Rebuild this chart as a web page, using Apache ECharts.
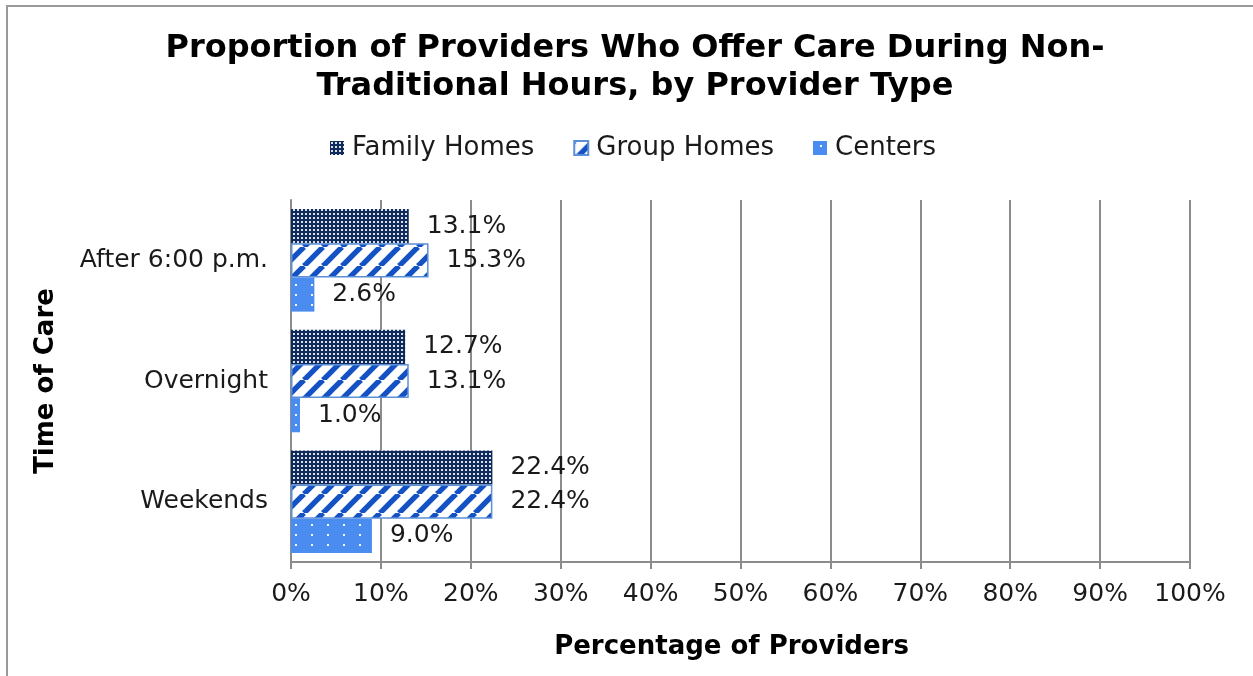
<!DOCTYPE html>
<html>
<head>
<meta charset="utf-8">
<script src="https://cdn.jsdelivr.net/npm/echarts@6/dist/echarts.min.js"></script>
<style>
html,body{margin:0;padding:0;background:#fff;}
#chart{width:1253px;height:676px;}
</style>
</head>
<body>
<div id="chart"></div>
<script>
const categories = ['After 6:00 p.m.', 'Overnight', 'Weekends'];
const seriesNames = ['Family Homes', 'Group Homes', 'Centers'];
const familyHomes = [13.1, 12.7, 22.4];
const groupHomes = [15.3, 13.1, 22.4];
const centers = [2.6, 1.0, 9.0];
const xTicks = [0, 10, 20, 30, 40, 50, 60, 70, 80, 90, 100];

function makeCanvas(w, h, draw) {
  const c = document.createElement('canvas');
  c.width = w; c.height = h;
  const g = c.getContext('2d');
  draw(g, w, h);
  return c;
}
const familyPat = makeCanvas(4, 4, (g) => {
  g.fillStyle = '#0e2b5c'; g.fillRect(0, 0, 4, 4);
  g.fillStyle = 'rgba(255,255,255,0.85)'; g.fillRect(1, 1, 2, 2);
});
const groupPat = makeCanvas(19, 19, (g, s) => {
  g.fillStyle = '#ffffff'; g.fillRect(0, 0, s, s);
  g.strokeStyle = '#1452c4'; g.lineWidth = 5.4;
  for (let k = -1; k <= 1; k++) {
    g.beginPath(); g.moveTo(k * s, s); g.lineTo(k * s + s, 0); g.stroke();
  }
});
const centersPat = makeCanvas(16, 10, (g) => {
  g.fillStyle = '#4b8cf0'; g.fillRect(0, 0, 16, 10);
  g.fillStyle = 'rgba(255,255,255,0.95)'; g.fillRect(7, 4, 2, 2);
});

const FONT = 'DejaVu Sans, Verdana, sans-serif';
const labelCfg = {
  show: true, position: 'right', distance: 18,
  fontFamily: FONT, fontSize: 25, color: '#1a1a1a',
  formatter: (p) => p.value.toFixed(1) + '%'
};

const chart = echarts.init(document.getElementById('chart'), null, {renderer: 'canvas'});
chart.setOption({
  backgroundColor: '#ffffff',
  animation: false,
  title: {
    text: 'Proportion of Providers Who Offer Care During Non-\nTraditional Hours, by Provider Type',
    left: 630, top: 25, textAlign: 'center',
    textStyle: {fontFamily: FONT, fontSize: 32, fontWeight: 'bold', color: '#000', lineHeight: 38}
  },
  legend: {
    left: 325, top: 130, icon: 'rect', itemWidth: 14, itemHeight: 14, itemGap: 39,
    textStyle: {fontFamily: FONT, fontSize: 26, color: '#1a1a1a', padding: [0, 0, 0, 3]},
    data: seriesNames
  },
  graphic: [{
    type: 'rect', silent: true, z: -1,
    shape: {x: 7, y: 6, width: 1400, height: 1000},
    style: {fill: 'none', stroke: '#999', lineWidth: 2}
  }],
  grid: {left: 291, right: 63, top: 200, bottom: 114, containLabel: false},
  xAxis: {
    type: 'value', min: 0, max: 100, interval: 10,
    name: 'Percentage of Providers', nameLocation: 'middle', nameGap: 72,
    nameTextStyle: {fontFamily: FONT, fontSize: 26, fontWeight: 'bold', color: '#000', padding: [0, 18, 0, 0]},
    axisLine: {show: true, lineStyle: {color: '#8c8c8c', width: 2}},
    axisTick: {show: true, length: 7, lineStyle: {color: '#8c8c8c', width: 2}},
    axisLabel: {fontFamily: FONT, fontSize: 25, color: '#1a1a1a', margin: 20,
      formatter: (v) => xTicks.includes(v) ? v + '%' : ''},
    splitLine: {show: true, lineStyle: {color: '#8c8c8c', width: 2}}
  },
  yAxis: {
    type: 'category', data: categories, inverse: true,
    name: 'Time of Care', nameLocation: 'middle', nameGap: 232, nameRotate: 90,
    nameTextStyle: {fontFamily: FONT, fontSize: 26, fontWeight: 'bold', color: '#000'},
    axisLine: {show: true, lineStyle: {color: '#8c8c8c', width: 2}},
    axisTick: {show: false},
    axisLabel: {fontFamily: FONT, fontSize: 25, color: '#1a1a1a', margin: 23}
  },
  series: [
    {name: seriesNames[0], type: 'bar', data: familyHomes, barCategoryGap: '15%', barGap: '0%',
      itemStyle: {color: {image: familyPat, repeat: 'repeat'}}, label: labelCfg},
    {name: seriesNames[1], type: 'bar', data: groupHomes, barCategoryGap: '15%', barGap: '0%',
      itemStyle: {color: {image: groupPat, repeat: 'repeat'}, borderColor: '#5b8fd8', borderWidth: 1.5}, label: labelCfg},
    {name: seriesNames[2], type: 'bar', data: centers, barCategoryGap: '15%', barGap: '0%',
      itemStyle: {color: {image: centersPat, repeat: 'repeat'}}, label: labelCfg}
  ]
});
</script>
</body>
</html>
